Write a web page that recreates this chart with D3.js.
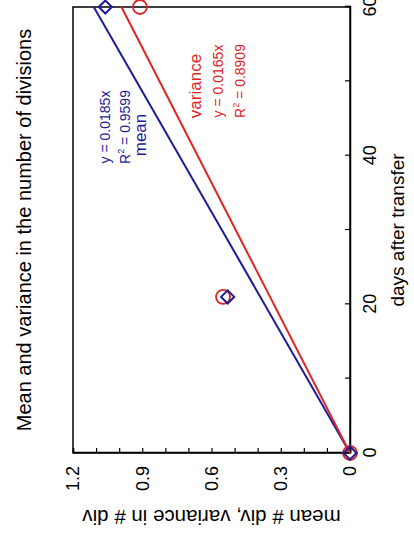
<!DOCTYPE html>
<html>
<head>
<meta charset="utf-8">
<script src="https://cdn.jsdelivr.net/npm/d3@7"></script>
<style>
  body { margin: 0; background: #fff; }
  svg text { font-family: "Liberation Sans", Arial, sans-serif; }
</style>
</head>
<body>
<div id="chart"></div>
<script>
// data
const days = [0, 21, 60];
const meanDiv = [0, 0.53, 1.06];
const varDiv = [0, 0.55, 0.91];
// linear fits through origin, as printed on the chart
const fitLabels = ['mean', 'variance'];
const fitSlopes = [0.0185, 0.0165];
const fitR2 = [0.9599, 0.8909];
const dayTicks = [0, 10, 20, 30, 40, 50, 60];
const valueTicks = [0, 0.1, 0.2, 0.3, 0.4, 0.5, 0.6, 0.7, 0.8, 0.9, 1.0, 1.1, 1.2];

const PAGE_W = 414;
const PAGE_H = 533;
// the chart is drawn unrotated (533 wide, 414 high) then turned -90deg
const W = PAGE_H;
const H = PAGE_W;
const MARGIN = { left: 80, right: 7, top: 73, bottom: 64 };
const BLUE = '#1c1c98';
const RED = '#e02424';

const svg = d3.select('#chart')
  .append('svg')
  .attr('width', PAGE_W)
  .attr('height', PAGE_H);

const g = svg.append('g')
  .attr('transform', `translate(0,${PAGE_H}) rotate(-90)`);

const x = d3.scaleLinear()
  .domain([0, 60])
  .range([MARGIN.left, W - MARGIN.right]);

const y = d3.scaleLinear()
  .domain([0, 1.2])
  .range([H - MARGIN.bottom, MARGIN.top]);

// frame
g.append('rect')
  .attr('x', x(0))
  .attr('y', y(1.2))
  .attr('width', x(60) - x(0))
  .attr('height', y(0) - y(1.2))
  .attr('fill', 'none')
  .attr('stroke', '#000')
  .attr('stroke-width', 1.5);

// x axis (days)
const xAxis = g.append('g')
  .attr('transform', `translate(0,${y(0)})`)
  .call(d3.axisBottom(x)
    .tickValues(dayTicks)
    .tickSize(-5)
    .tickPadding(13)
    .tickFormat(d => (d % 20 === 0 ? d : '')));
xAxis.select('.domain').attr('stroke-width', 1.5);
xAxis.selectAll('line').attr('stroke-width', 1.2);
xAxis.selectAll('text').attr('font-size', 18).attr('fill', '#000');

// y axis (mean / variance)
const yAxis = g.append('g')
  .attr('transform', `translate(${x(0)},0)`)
  .call(d3.axisLeft(y)
    .tickValues(valueTicks)
    .tickSize(-5)
    .tickPadding(13)
    .tickFormat(d => {
      const k = Math.round(d * 10);
      if (k % 3 !== 0) return '';
      return k === 0 ? '0' : d3.format('.1f')(d);
    }));
yAxis.select('.domain').attr('stroke-width', 1.5);
yAxis.selectAll('line').attr('stroke-width', 1.2);
yAxis.selectAll('text').attr('font-size', 18).attr('fill', '#000');

// titles
g.append('text')
  .attr('x', (x(0) + x(60)) / 2)
  .attr('y', 31)
  .attr('text-anchor', 'middle')
  .attr('font-size', 20)
  .text('Mean and variance in the number of divisions');

g.append('text')
  .attr('x', (x(0) + x(60)) / 2)
  .attr('y', 404)
  .attr('text-anchor', 'middle')
  .attr('font-size', 19)
  .text('days after transfer');

g.append('text')
  .attr('transform', `translate(16,${(y(0) + y(1.2)) / 2}) rotate(-90)`)
  .attr('text-anchor', 'middle')
  .attr('dy', '0.35em')
  .attr('font-size', 20.5)
  .text('mean # div,  variance in # div');

// trend lines
const fitColors = [BLUE, RED];
fitSlopes.forEach((s, i) => {
  g.append('line')
    .attr('x1', x(0))
    .attr('y1', y(0))
    .attr('x2', x(60))
    .attr('y2', y(s * 60))
    .attr('stroke', fitColors[i])
    .attr('stroke-width', 2);
});

// markers: variance circles, mean diamonds
g.append('g')
  .selectAll('circle')
  .data(days.map((d, i) => ({ d, v: varDiv[i] })))
  .join('circle')
  .attr('cx', p => x(p.d))
  .attr('cy', p => y(p.v))
  .attr('r', 7)
  .attr('fill', 'none')
  .attr('stroke', RED)
  .attr('stroke-width', 1.8);

const diamond = d3.symbol().type(d3.symbolDiamond2).size(110);
g.append('g')
  .selectAll('path')
  .data(days.map((d, i) => ({ d, v: meanDiv[i] })))
  .join('path')
  .attr('transform', p => `translate(${x(p.d)},${y(p.v)})`)
  .attr('d', diamond)
  .attr('fill', 'none')
  .attr('stroke', BLUE)
  .attr('stroke-width', 2);

// fit annotations
// mean block
const meanG = g.append('g').attr('fill', BLUE).attr('text-anchor', 'middle');
meanG.append('text').attr('x', 406).attr('y', 110).attr('font-size', 14)
  .text(`y = ${fitSlopes[0]}x`);
const r2a = meanG.append('text').attr('x', 406).attr('y', 130).attr('font-size', 14);
r2a.append('tspan').text('R');
r2a.append('tspan').attr('font-size', 9).attr('dy', -6).text('2');
r2a.append('tspan').attr('dy', 6).text(` = ${fitR2[0]}`);
meanG.append('text').attr('x', 398).attr('y', 146).attr('font-size', 17)
  .text(fitLabels[0]);

// variance block
const varG = g.append('g').attr('fill', RED).attr('text-anchor', 'middle');
varG.append('text').attr('x', 447).attr('y', 201).attr('font-size', 17)
  .text(fitLabels[1]);
varG.append('text').attr('x', 452).attr('y', 223).attr('font-size', 14)
  .text(`y = ${fitSlopes[1]}x`);
const r2b = varG.append('text').attr('x', 452).attr('y', 245).attr('font-size', 14);
r2b.append('tspan').text('R');
r2b.append('tspan').attr('font-size', 9).attr('dy', -6).text('2');
r2b.append('tspan').attr('dy', 6).text(` = ${fitR2[1]}`);
</script>
</body>
</html>
